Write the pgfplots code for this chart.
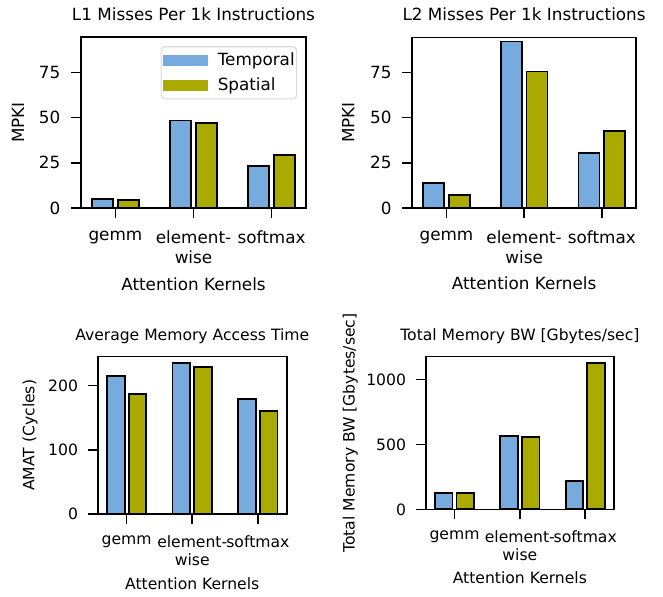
\documentclass[border=0pt]{standalone}
\usepackage{pgfplots}
\pgfplotsset{compat=1.18}
\usepackage{fontspec}
\setmainfont{DejaVu Sans}
\definecolor{tblue}{HTML}{77AADD}
\definecolor{tolive}{HTML}{AAAA00}
\pgfplotsset{
  every axis title shift=0pt,
  kern/.style={
    scale only axis,
    axis line style={line width=1.2pt},
    xmin=-0.44, xmax=2.44, ymin=0,
    xtick={0,1,2},
    xticklabels={gemm,{element-\\wise},softmax},
    xticklabel style={align=center},
    tick align=outside, xtick pos=lower, ytick pos=left,
    major tick length=7.5pt,
    every tick/.style={line width=1.2pt, black},
    /pgf/number format/assume math mode=true,
    /pgf/number format/1000 sep={},
    xlabel={Attention Kernels},
    legend image code/.code={\fill[#1,draw=none,sharp corners] (0pt,-4.1pt) rectangle (33.75pt,4.1pt);},
  },
  tbar/.style={ybar, bar width=0.27, bar shift=-0.165, fill=tblue, draw=black, line width=1.4pt},
  sbar/.style={ybar, bar width=0.27, bar shift=0.165, fill=tolive, draw=black, line width=1.4pt},
}
\begin{document}
\begin{tikzpicture}
\path[use as bounding box] (0,0) rectangle (497.25pt,-447pt);
% ---------- top left
\begin{axis}[kern,
  at={(60.75pt,-27.75pt)}, anchor=north west,
  width=168.75pt, height=128.25pt,
  ymax=94.6, ytick={0,25,50,75},
  font=\fontsize{12.6}{14.5}\selectfont,
  xticklabel style={yshift=-6.3pt},
  yticklabel style={xshift=-4.5pt},
  ylabel={MPKI},
  title={L1 Misses Per 1k Instructions},
  title style={at={(axis description cs:0.5,1.0994)}, anchor=base, inner sep=0pt},
  xlabel style={at={(axis description cs:0.5,-0.48)}, anchor=base, inner sep=0pt},
  ylabel style={at={(axis description cs:-0.28,0.5)}, anchor=center},
  legend style={at={(axis description cs:0.961,0.946)}, anchor=north east,
    draw=black!15, rounded corners=3pt, line width=0.8pt, fill=white,
    inner xsep=1.5pt, inner ysep=4.5pt, row sep=8pt,
    font=\fontsize{12.6}{15}\selectfont,
    nodes={inner sep=0pt}},
  legend cell align=left,
]
\addplot[tbar] coordinates {(0,5.0) (1,48.4) (2,23.1)};
\addplot[sbar] coordinates {(0,4.3) (1,47.1) (2,29.2)};
\legend{\hspace{7.3pt}Temporal,\hspace{7.3pt}Spatial}
\end{axis}
% ---------- top right
\begin{axis}[kern,
  at={(309.2pt,-28pt)}, anchor=north west,
  width=167.8pt, height=128pt,
  ymax=94.4, ytick={0,25,50,75},
  font=\fontsize{12.6}{14.5}\selectfont,
  xticklabel style={yshift=-6.3pt},
  yticklabel style={xshift=-4.5pt},
  ylabel={MPKI},
  title={L2 Misses Per 1k Instructions},
  title style={at={(axis description cs:0.5,1.0994)}, anchor=base, inner sep=0pt},
  xlabel style={at={(axis description cs:0.5,-0.48)}, anchor=base, inner sep=0pt},
  ylabel style={at={(axis description cs:-0.286,0.5)}, anchor=center},
]
\addplot[tbar] coordinates {(0,14.0) (1,92.1) (2,30.2)};
\addplot[sbar] coordinates {(0,7.2) (1,75.5) (2,42.4)};
\end{axis}
% ---------- bottom left
\begin{axis}[kern,
  at={(73.3pt,-267.5pt)}, anchor=north west,
  width=141.75pt, height=118pt,
  ymax=245, ytick={0,100,200},
  font=\fontsize{11.7}{13.5}\selectfont,
  xticklabel style={yshift=-5pt},
  yticklabel style={xshift=-3.8pt},
  ylabel={AMAT (Cycles)},
  title={Average Memory Access Time},
  title style={at={(axis description cs:0.5,1.102)}, anchor=base, inner sep=0pt},
  xlabel style={at={(axis description cs:0.5,-0.479)}, anchor=base, inner sep=0pt},
  ylabel style={at={(axis description cs:-0.358,0.5)}, anchor=center},
]
\addplot[tbar] coordinates {(0,215) (1,234.7) (2,179)};
\addplot[sbar] coordinates {(0,187.4) (1,229.4) (2,161)};
\end{axis}
% ---------- bottom right
\begin{axis}[kern,
  at={(319.3pt,-267.5pt)}, anchor=north west,
  width=141.2pt, height=114.5pt,
  ymax=1177, ytick={0,500,1000},
  font=\fontsize{11.7}{13.5}\selectfont,
  xticklabel style={yshift=-5pt},
  yticklabel style={xshift=-3.8pt},
  ylabel={Total Memory BW [Gbytes/sec]},
  title={Total Memory BW [Gbytes/sec]},
  title style={at={(axis description cs:0.5,1.105)}, anchor=base, inner sep=0pt},
  xlabel style={at={(axis description cs:0.5,-0.485)}, anchor=base, inner sep=0pt},
  ylabel style={at={(axis description cs:-0.40,0.5)}, anchor=center},
]
\addplot[tbar] coordinates {(0,128) (1,566) (2,218)};
\addplot[sbar] coordinates {(0,128) (1,556) (2,1127)};
\end{axis}
\end{tikzpicture}
\end{document}
